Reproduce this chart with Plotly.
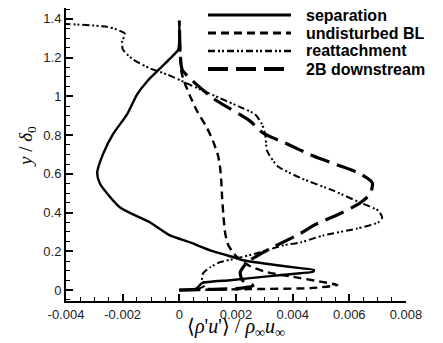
import plotly.graph_objects as go

# ---- data ----
sep_x = [0.0, 0.0006, 0.0008, 0.0018, 0.0032, 0.00427, 0.00473, 0.00475, 0.00427, 0.0032, 0.00225,
         0.00204, 0.00109, 0.00038, -0.00033, -0.00103, -0.00209, -0.0028, -0.0029, -0.00269,
         -0.00234, -0.00184, -0.00149, -0.00114, -0.00068, -0.00033, -0.00004, 0.0, 0.0]
sep_y = [0.0, 0.008, 0.036, 0.051, 0.072, 0.087, 0.095, 0.104, 0.113, 0.133, 0.154,
         0.164, 0.205, 0.246, 0.282, 0.349, 0.426, 0.549, 0.605, 0.703,
         0.805, 0.908, 1.01, 1.077, 1.144, 1.195, 1.241, 1.30, 1.39]

ubl_x = [0.0, 0.0025, 0.00462, 0.00558, 0.00508, 0.00427, 0.0031, 0.0025, 0.00201, 0.00173,
         0.00162, 0.00155, 0.00151, 0.00148, 0.00144, 0.00137, 0.00119, 0.00098, 0.00063,
         0.00038, 0.00017, 0.00007, 0.0]
ubl_y = [0.0, 0.005, 0.01, 0.026, 0.041, 0.062, 0.092, 0.123, 0.174, 0.231,
         0.292, 0.395, 0.477, 0.564, 0.631, 0.692, 0.769, 0.836, 0.923,
         1.0, 1.077, 1.128, 1.39]

rea_x = [0.0, 0.00073, 0.00091, 0.0008, 0.00084, 0.00109, 0.00144, 0.00204, 0.00286, 0.00367,
         0.00427, 0.00508, 0.00628, 0.00702, 0.00716, 0.00702, 0.00639, 0.00544, 0.00427,
         0.00346, 0.0031, 0.00303, 0.00292, 0.00267, 0.00225, 0.00144, 0.00073, 0.00027,
         -0.00043, -0.00103, -0.00163, -0.00199, -0.00202, -0.00192, -0.0022, -0.00255, -0.00405]
rea_y = [0.0, 0.01, 0.026, 0.051, 0.087, 0.118, 0.144, 0.164, 0.195, 0.231,
         0.246, 0.282, 0.318, 0.349, 0.374, 0.41, 0.451, 0.513, 0.579,
         0.641, 0.718, 0.805, 0.856, 0.908, 0.938, 0.99, 1.036, 1.067,
         1.113, 1.144, 1.19, 1.241, 1.282, 1.323, 1.344, 1.359, 1.374]

b2_x = [0.0, 0.0012, 0.0022, 0.0026, 0.0025, 0.00222, 0.00215, 0.0024, 0.00296, 0.00427,
        0.00473, 0.00568, 0.00639, 0.00674, 0.00681, 0.00639, 0.00568, 0.00473, 0.00381,
        0.00296, 0.0025, 0.00119, 0.00049, 0.0001, 0.00003, 0.0]
b2_y = [0.0, 0.004, 0.01, 0.022, 0.036, 0.051, 0.092, 0.144, 0.195, 0.292,
        0.333, 0.395, 0.451, 0.497, 0.554, 0.6, 0.641, 0.692, 0.754,
        0.81, 0.872, 0.99, 1.077, 1.138, 1.23, 1.39]

legend_names = ["separation", "undisturbed BL", "reattachment", "2B downstream"]
x_ticks = [-0.004, -0.002, 0, 0.002, 0.004, 0.006, 0.008]
x_ticklabels = ["-0.004", "-0.002", "0", "0.002", "0.004", "0.006", "0.008"]
y_ticks = [0, 0.2, 0.4, 0.6, 0.8, 1, 1.2, 1.4]
y_ticklabels = ["0", "0.2", "0.4", "0.6", "0.8", "1", "1.2", "1.4"]

# ---- styling ----
styles = [
    dict(width=2.4, dash="solid"),
    dict(width=2.4, dash="8px,5px"),
    dict(width=2.0, dash="7px,3px,2px,2px,2px,3px"),
    dict(width=3.2, dash="20px,8px"),
]
series = [(sep_x, sep_y), (ubl_x, ubl_y), (rea_x, rea_y), (b2_x, b2_y)]

fig = go.Figure()
for (xs, ys), st, nm in zip(series, styles, legend_names):
    fig.add_trace(go.Scatter(x=xs, y=ys, mode="lines", name=nm,
                             line=dict(color="black", width=st["width"], dash=st["dash"],
                                       shape="spline", smoothing=0.6),
                             showlegend=False))

# page body has an 8px margin; figure is laid out to land on the reference pixels
OFF = 8
W, H = 443 - OFF, 343 - OFF
L, R, T, B = 66 - OFF, 406 - OFF, 0, 301 - OFF
def px_x(p): return (p - OFF - L) / (R - L)
def px_y(p): return (B - (p - OFF)) / (B - T)

leg_rows = [15, 33, 51, 69]
for nm, st, row in zip(legend_names, styles, leg_rows):
    fig.add_shape(type="line", xref="paper", yref="paper",
                  x0=px_x(208), x1=px_x(291), y0=px_y(row), y1=px_y(row),
                  line=dict(color="black", width=st["width"] + 0.6, dash=st["dash"]))
    fig.add_annotation(xref="paper", yref="paper", x=px_x(304), y=px_y(row),
                       text=nm, showarrow=False, xanchor="left", yanchor="middle",
                       font=dict(family="Liberation Sans, Arial", size=16, color="black",
                                 weight="bold"))

# axis titles
fig.add_annotation(xref="paper", yref="paper", x=px_x(236), y=px_y(327),
                   text="⟨<i>ρ</i>'<i>u</i>'⟩ / <i>ρ</i><sub>∞</sub><i>u</i><sub>∞</sub>",
                   showarrow=False, xanchor="center", yanchor="middle",
                   font=dict(family="Liberation Serif, Times New Roman", size=20, color="black"))
fig.add_annotation(xref="paper", yref="paper", x=px_x(27), y=px_y(147),
                   text="<i>y</i> / <i>δ</i><sub>0</sub>", textangle=-90,
                   showarrow=False, xanchor="center", yanchor="middle",
                   font=dict(family="Liberation Serif, Times New Roman", size=19, color="black"))

fig.update_layout(
    width=W, height=H,
    margin=dict(l=L, r=W - R, t=T, b=H - B, pad=0),
    paper_bgcolor="white", plot_bgcolor="white",
    showlegend=False,
    font=dict(family="Liberation Sans, Arial", size=13, color="#222"),
)
fig.update_xaxes(range=[-0.004, 0.008], tickvals=x_ticks, ticktext=x_ticklabels,
                 showline=True, linecolor="black", linewidth=2, mirror=False,
                 ticks="inside", ticklen=7, tickwidth=1.5, tickcolor="black",
                 minor=dict(dtick=0.0005, ticks="inside", ticklen=4, tickwidth=1, tickcolor="black"),
                 showgrid=False, zeroline=False, tickfont=dict(size=13, color="#222"))
fig.update_yaxes(range=[-0.0564, 1.456], tickvals=y_ticks, ticktext=y_ticklabels,
                 showline=True, linecolor="black", linewidth=2, mirror=False,
                 ticks="inside", ticklen=7, tickwidth=1.5, tickcolor="black",
                 minor=dict(dtick=0.05, ticks="inside", ticklen=4, tickwidth=1, tickcolor="black"),
                 showgrid=False, zeroline=False, tickfont=dict(size=13, color="#222"))

fig.write_html("out.html")
